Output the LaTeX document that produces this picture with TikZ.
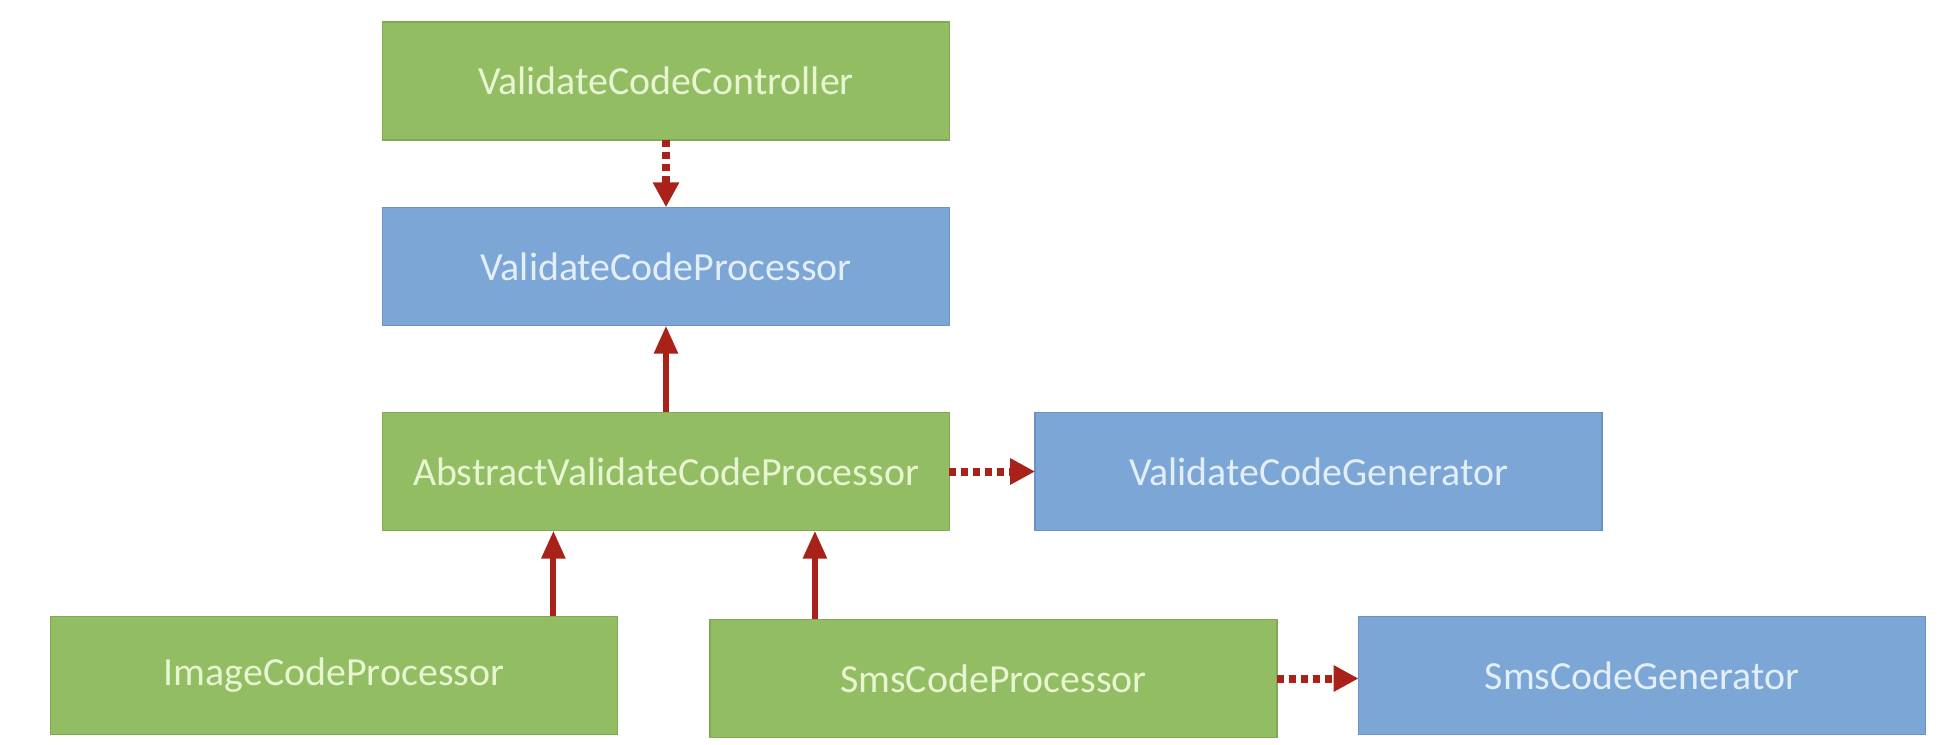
\documentclass[tikz,border=0pt]{standalone}
\usepackage{fontspec}
\setmainfont{Carlito}
\usetikzlibrary{arrows.meta,calc}
\definecolor{gfill}{HTML}{92BD62}
\definecolor{gline}{HTML}{7FA955}
\definecolor{gtext}{HTML}{E8F5D2}
\definecolor{bfill}{HTML}{7BA6D5}
\definecolor{bline}{HTML}{6A93C2}
\definecolor{btext}{HTML}{E3EEF9}
\definecolor{arr}{HTML}{A8221A}
\tikzset{
  box/.style={draw, line width=0.03cm, minimum width=11.34cm, minimum height=2.37cm,
    inner sep=0pt, outer sep=0pt, font=\fontsize{22.7}{27}\selectfont},
  gbox/.style={box, fill=gfill, draw=gline, text=gtext},
  bbox/.style={box, fill=bfill, draw=bline, text=btext},
  solidarr/.style={draw=arr, line width=0.12cm, -{Triangle[length=0.56cm,width=0.46cm]}, arr},
  dotarr/.style={draw=arr, line width=0.16cm, dash pattern=on 0.14cm off 0.1cm,
    -{Triangle[length=0.5cm,width=0.5cm]}, arr, shorten >=0pt}
}
\begin{document}
\begin{tikzpicture}[x=0.02cm,y=-0.02cm]
\useasboundingbox[fill=white] (0,0) rectangle (1944,744);
\node[gbox] (ctrl) at (666,81) {ValidateCodeController};
\node[bbox] (proc) at (666,266.5) {ValidateCodeProcessor};
\node[gbox] (abs) at (666,471.5) {AbstractValidateCodeProcessor};
\node[bbox] (vcg) at (1318.5,471.5) {ValidateCodeGenerator};
\node[gbox] (img) at (334,675.5) {ImageCodeProcessor};
\node[gbox] (sms) at (993.5,678.5) {SmsCodeProcessor};
\node[bbox] (sgen) at (1642,675.5) {SmsCodeGenerator};

\draw[dotarr] (ctrl.south) -- (proc.north);
\draw[solidarr] (abs.north) -- (proc.south);
\draw[dotarr] (abs.east) -- (vcg.west);
\draw[dotarr] (sms.east) -- (sms.east -| sgen.west);
\coordinate (i1) at ($(img.north west)!0.887!(img.north east)$);
\draw[solidarr] (i1) -- (i1 |- abs.south);
\coordinate (s1) at ($(sms.north west)!0.185!(sms.north east)$);
\draw[solidarr] (s1) -- (s1 |- abs.south);
\end{tikzpicture}
\end{document}
